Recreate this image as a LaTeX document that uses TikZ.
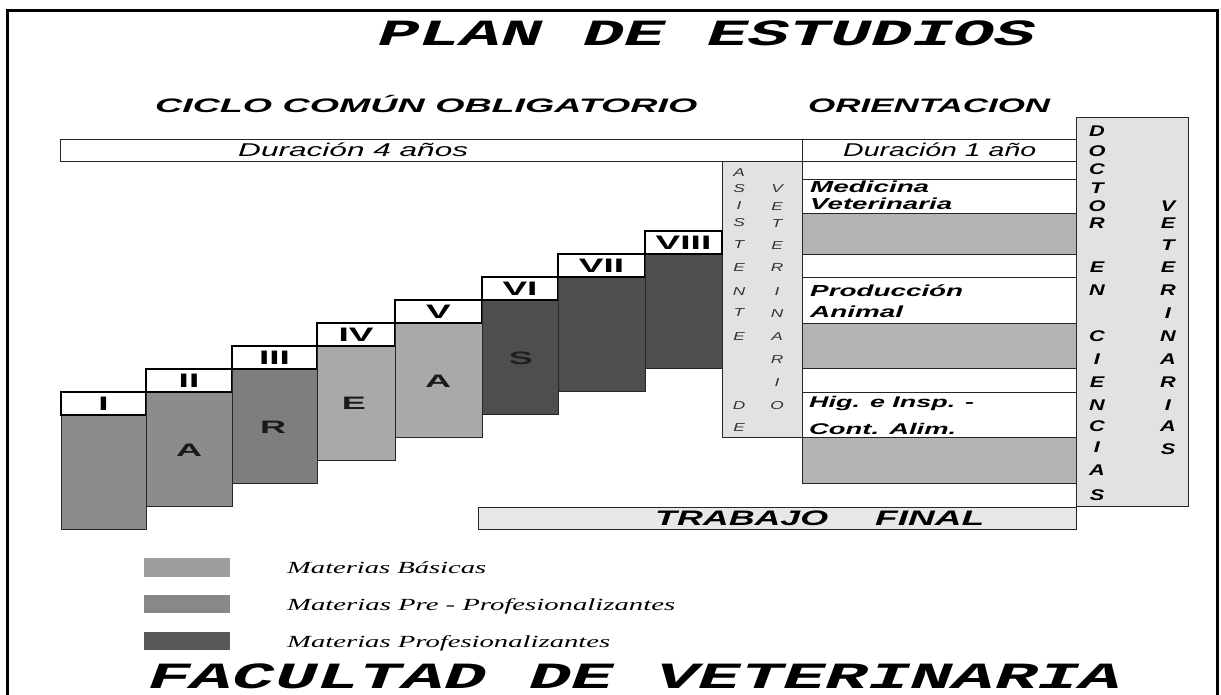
\documentclass[tikz,border=0pt]{standalone}
\usepackage{fontspec}
\usepackage{graphicx}
\setmainfont{Liberation Sans}
\newfontfamily\sansf{Liberation Sans}
\newfontfamily\seriff{Liberation Serif}
\newfontfamily\monof{Liberation Mono}
\newcommand\fitw[2]{\resizebox{#1pt}{\height}{#2}}
\newcommand\sxa[2]{\scalebox{#1}[1]{#2}}
\definecolor{cA}{HTML}{A9A9A9}
\definecolor{cB}{HTML}{8C8C8C}
\definecolor{cC}{HTML}{7E7E7E}
\definecolor{cD}{HTML}{4E4E4E}
\definecolor{lA}{HTML}{9E9E9E}
\definecolor{lB}{HTML}{888888}
\definecolor{lC}{HTML}{585858}
\definecolor{oriGray}{HTML}{B4B4B4}
\definecolor{pale}{HTML}{E2E2E2}
\definecolor{paleT}{HTML}{E8E8E8}
\begin{document}
\begin{tikzpicture}[x=1pt,y=-1pt,
  txt/.style={anchor=base west,inner sep=0pt},
  blockline/.style={draw=black!85,line width=1pt},
  labelline/.style={draw=black,line width=1.8pt},
  rowline/.style={draw=black!85,line width=0.9pt},
  numst/.style={anchor=base,inner sep=0pt,font=\sansf\bfseries\fontsize{19.5}{20}\selectfont},
  areal/.style={inner sep=0pt,font=\sansf\bfseries\fontsize{18}{18}\selectfont,text=black!90},
  docl/.style={inner sep=0pt,font=\sansf\bfseries\itshape\fontsize{15.5}{16}\selectfont},
  asl/.style={inner sep=0pt,font=\sansf\itshape\fontsize{11.5}{12}\selectfont,text=black!80}]
\useasboundingbox (0,0) rectangle (1221,695);
\fill[white] (0,0) rectangle (1221,695);
% frame
\draw[line width=3pt] (7.5,695) -- (7.5,11) -- (1217,11) -- (1217,695);
% titles
\node[txt] (title) at (378,46) {\fitw{658}{\monof\bfseries\itshape\fontsize{37}{37}\selectfont PLAN DE ESTUDIOS}};
\node[txt] (ciclo) at (155,113) {\fitw{542}{\sansf\bfseries\itshape\fontsize{19.5}{20}\selectfont CICLO COMÚN OBLIGATORIO}};
\node[txt] (orient) at (808,113) {\fitw{242}{\sansf\bfseries\itshape\fontsize{19.5}{20}\selectfont ORIENTACION}};
% duration bars
\draw[rowline] (60,139) rectangle (802,161);
\node[txt] (dur4) at (238,157) {\fitw{230}{\sansf\itshape\fontsize{18.5}{18}\selectfont Duración 4 años}};
\draw[rowline] (802,139) rectangle (1076,161);
\node[txt] (dur1) at (843,157) {\fitw{193}{\sansf\itshape\fontsize{18.5}{18}\selectfont Duración 1 año}};
% orientation rows
\draw[rowline] (802,161) rectangle (1076,179);
\draw[rowline] (802,179) rectangle (1076,213);
\draw[rowline,fill=oriGray] (802,213) rectangle (1076,254);
\draw[rowline] (802,254) rectangle (1076,277);
\draw[rowline] (802,277) rectangle (1076,323);
\draw[rowline,fill=oriGray] (802,323) rectangle (1076,368);
\draw[rowline] (802,368) rectangle (1076,392);
\draw[rowline] (802,392) rectangle (1076,437);
\draw[rowline,fill=oriGray] (802,437) rectangle (1076,483);
\node[txt] (med) at (810,193) {\fitw{119}{\sansf\bfseries\itshape\fontsize{16}{16}\selectfont Medicina}};
\node[txt] (vet) at (810,210) {\fitw{142}{\sansf\bfseries\itshape\fontsize{16}{16}\selectfont Veterinaria}};
\node[txt] (prod) at (810,296) {\fitw{153}{\sansf\bfseries\itshape\fontsize{16}{16}\selectfont Producción}};
\node[txt] (anim) at (810,317) {\fitw{93}{\sansf\bfseries\itshape\fontsize{16}{16}\selectfont Animal}};
\node[txt] (hig) at (809,407) {\fitw{165}{\sansf\bfseries\itshape\fontsize{15.5}{16}\selectfont Hig. e Insp. -}};
\node[txt] (cont) at (809,434) {\fitw{147}{\sansf\bfseries\itshape\fontsize{15.5}{16}\selectfont Cont. Alim.}};
% asistente column
\draw[rowline,fill=pale] (722,161) rectangle (802,437);
\foreach \l/\y [count=\i] in {A/173,S/189,I/206,S/223,T/245,E/268,N/292,T/313,E/337,D/406,E/428}
  \node[asl] (asL\i) at (739,\y) {\sxa{1.5}{\l}};
\foreach \l/\y [count=\i] in {V/189,E/207,T/224,E/246,R/268,I/292,N/314,A/337,R/360,I/383,O/406}
  \node[asl] (asR\i) at (777,\y) {\sxa{1.5}{\l}};
% doctor column
\draw[rowline,fill=pale] (1076,117) rectangle (1188,506);
\foreach \l/\y [count=\i] in {D/131,O/151,C/169,T/188,O/206,R/223,E/267,N/290,C/336,I/359,E/382,N/405,C/426,I/447,A/470,S/495}
  \node[docl] (dcL\i) at (1097,\y) {\sxa{1.4}{\l}};
\foreach \l/\y [count=\i] in {V/206,E/223,T/245,E/267,R/290,I/313,N/336,A/359,R/382,I/405,A/426,S/449}
  \node[docl] (dcR\i) at (1168,\y) {\sxa{1.4}{\l}};
% trabajo final
\draw[rowline,fill=paleT] (478,507) rectangle (1076,529);
\node[txt] (trab) at (655,525) {\fitw{173}{\sansf\bfseries\itshape\fontsize{21}{21}\selectfont TRABAJO}};
\node[txt] (fin) at (875,525) {\fitw{109}{\sansf\bfseries\itshape\fontsize{21}{21}\selectfont FINAL}};
% steps
\foreach \xa/\xb/\t/\num/\col [count=\i] in {61/146/392/I/cB,146/232/369/II/cB,232/317/346/III/cC,317/395/323/IV/cA,395/482/300/V/cA,482/558/277/VI/cD,558/645/254/VII/cD,645/722/231/VIII/cD}{
  \draw[blockline,fill=\col] (\xa,\t+23) rectangle (\xb,\t+137);
  \draw[labelline,fill=white] (\xa,\t) rectangle (\xb,\t+23);
  \node[numst] (num\i) at ({(\xa+\xb)/2},\t+18.5) {\sxa{1.9}{\num}};
}
\node[areal] (a1) at (189,450) {\sxa{2}{A}};
\node[areal] (a2) at (273,427) {\sxa{2}{R}};
\node[areal] (a3) at (354,403) {\sxa{2}{E}};
\node[areal] (a4) at (438,381) {\sxa{2}{A}};
\node[areal,text=black!88] (a5) at (521,358) {\sxa{2}{S}};
% legend
\fill[lA] (144,558) rectangle (230,577);
\fill[lB] (144,595) rectangle (230,613);
\fill[lC] (144,632) rectangle (230,650);
\node[txt] (leg1) at (287,573) {\fitw{199}{\seriff\itshape\fontsize{17}{17}\selectfont Materias Básicas}};
\node[txt] (leg2) at (287,610) {\fitw{388}{\seriff\itshape\fontsize{17}{17}\selectfont Materias Pre - Profesionalizantes}};
\node[txt] (leg3) at (287,647) {\fitw{323}{\seriff\itshape\fontsize{17}{17}\selectfont Materias Profesionalizantes}};
% footer
\node[txt] (fac) at (148,688) {\fitw{974}{\monof\bfseries\itshape\fontsize{37}{37}\selectfont FACULTAD DE VETERINARIA}};
\end{tikzpicture}
\end{document}
